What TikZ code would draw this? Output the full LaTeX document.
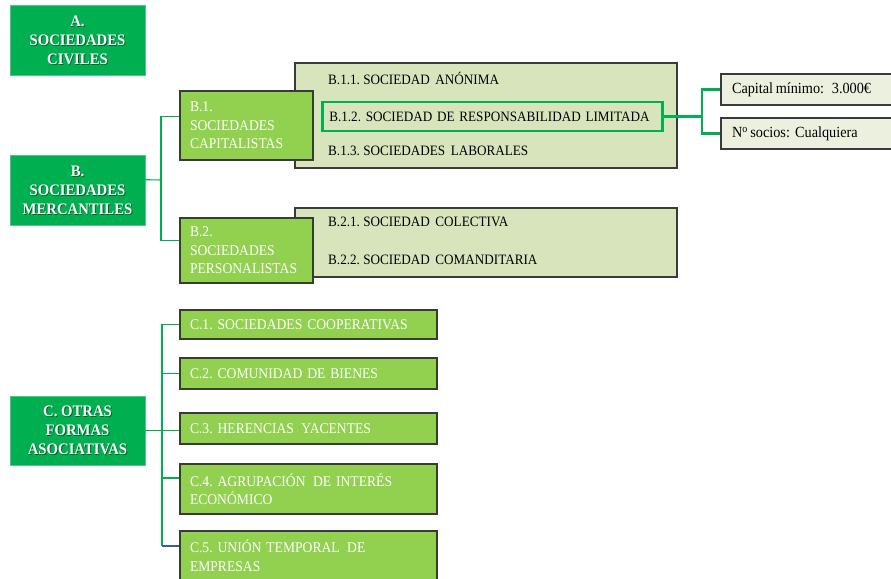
\documentclass[tikz,border=0pt]{standalone}
\usepackage{fontspec}
\setmainfont{Liberation Serif}[FakeStretch=0.92]
\definecolor{dgreen}{HTML}{00B050}
\definecolor{lgreen}{HTML}{92D050}
\definecolor{olivebg}{HTML}{D8E4BC}
\definecolor{palebg}{HTML}{EBF1DE}
\definecolor{edgegray}{HTML}{3A3A3A}
\definecolor{connblue}{HTML}{3A5BA8}
\tikzset{
  mainbox/.style={fill=dgreen, draw=dgreen!70!white, line width=0.6pt, inner sep=0pt},
  boldtxt/.style={text=white, align=center, font=\fontsize{16}{19}\selectfont\bfseries, inner sep=0pt},
  shadowtxt/.style={text=black, opacity=0.45, align=center, font=\fontsize{16}{19}\selectfont\bfseries, inner sep=0pt},
  subbox/.style={fill=lgreen, draw=edgegray, line width=1.3pt, text=white, align=left,
     font=\fontsize{14.8}{18.5}\selectfont, inner xsep=10pt, inner ysep=0pt},
  groupbox/.style={fill=olivebg, draw=edgegray, line width=1.3pt, inner sep=0pt},
  rowtxt/.style={text=black, font=\fontsize{14.3}{18}\selectfont, inner sep=0pt, anchor=west},
  hlbox/.style={draw=dgreen, line width=2.6pt, fill=olivebg, text=black, align=left,
     font=\fontsize{14.3}{18}\selectfont, inner xsep=7pt, inner ysep=0pt, anchor=west},
  infobox/.style={fill=palebg, draw=edgegray, line width=1.3pt, text=black, align=left,
     font=\fontsize{15.5}{18}\selectfont, inner xsep=11pt, inner ysep=0pt},
  conn/.style={draw=dgreen, line width=1.1pt},
  connthick/.style={draw=dgreen, line width=2.2pt}
}
\begin{document}
\frenchspacing
\begin{tikzpicture}[x=1pt,y=-1pt]
\useasboundingbox (0,0) rectangle (891,578);
\clip (0,0) rectangle (891,578);

% ---- A ----
\node[mainbox, minimum width=135pt, minimum height=70pt] (A) at (77.5,40) {};
\node[shadowtxt] (Ash) at ([shift={(0.9pt,-0.9pt)}]A.center) {A.\\SOCIEDADES\\CIVILES};
\node[boldtxt] (Atx) at (A.center) {A.\\SOCIEDADES\\CIVILES};

% ---- B ----
\node[mainbox, minimum width=135pt, minimum height=70pt] (B) at (77.5,190) {};
\node[shadowtxt] (Bsh) at ([shift={(0.9pt,-0.9pt)}]B.center) {B.\\SOCIEDADES\\MERCANTILES};
\node[boldtxt] (Btx) at (B.center) {B.\\SOCIEDADES\\MERCANTILES};

% ---- group boxes ----
\node[groupbox, minimum width=382pt, minimum height=105pt] (G1) at (486,115.5) {};
\node[groupbox, minimum width=382pt, minimum height=69pt] (G2) at (486,242.5) {};

\node[rowtxt] (B11) at (328,78) {B.1.1. SOCIEDAD\ \,ANÓNIMA};
\node[hlbox, minimum width=340pt, minimum height=29pt, text width=326pt] (B12) at (321,116.5) {\mbox{B.1.2. SOCIEDAD DE RESPONSABILIDAD LIMITADA}};
\node[rowtxt] (B13) at (328,151) {B.1.3. SOCIEDADES\ \,LABORALES};
\node[rowtxt] (B21) at (328,222) {B.2.1. SOCIEDAD\ \,COLECTIVA};
\node[rowtxt] (B22) at (328,260) {B.2.2. SOCIEDAD\ \,COMANDITARIA};

% ---- B.1 / B.2 ----
\node[subbox, minimum width=133pt, minimum height=69pt, text width=113pt] (B1) at (246.5,125.5) {B.1.\\SOCIEDADES\\CAPITALISTAS};
\node[subbox, minimum width=133pt, minimum height=65pt, text width=113pt] (B2) at (246.5,250.5) {B.2.\\SOCIEDADES\\PERSONALISTAS};

% ---- info boxes ----
\node[infobox, minimum width=179pt, minimum height=31pt, text width=157pt] (Cap) at (810.5,89.5) {Capital\,mínimo:\ \,3.000€};
\node[infobox, minimum width=179pt, minimum height=31pt, text width=157pt] (Nso) at (810.5,133.5) {N\textsuperscript{o}\,socios: Cualquiera};

% ---- C ----
\node[mainbox, minimum width=135pt, minimum height=69pt] (C) at (77.5,430.5) {};
\node[shadowtxt] (Csh) at ([shift={(0.9pt,-0.9pt)}]C.center) {C. OTRAS\\FORMAS\\ASOCIATIVAS};
\node[boldtxt] (Ctx) at (C.center) {C. OTRAS\\FORMAS\\ASOCIATIVAS};

\node[subbox, minimum width=257pt, minimum height=29pt, text width=237pt] (C1) at (308.5,324.5) {C.1. SOCIEDADES COOPERATIVAS};
\node[subbox, minimum width=257pt, minimum height=31pt, text width=237pt] (C2) at (308.5,373.5) {C.2. COMUNIDAD DE BIENES};
\node[subbox, minimum width=257pt, minimum height=31pt, text width=237pt] (C3) at (308.5,428.5) {C.3. HERENCIAS\ \,YACENTES};
\node[subbox, minimum width=257pt, minimum height=50pt, text width=237pt] (C4) at (308.5,489) {C.4. AGRUPACIÓN\ \,DE INTERÉS\\ECONÓMICO};
\node[subbox, minimum width=257pt, minimum height=49pt, text width=237pt] (C5) at (308.5,555.5) {C.5. UNIÓN TEMPORAL\ \,DE\\EMPRESAS};

% ---- connectors ----
\coordinate (bj) at (161,180);
\draw[conn] ([yshift=-25pt]B.north east) -- (bj);
\draw[conn] ([yshift=-26pt]B1.north west) -| (bj) |- ([yshift=-23pt]B2.north west);

\coordinate (rj) at (702,116.5);
\draw[connthick] (B12.east) -- (rj);
\draw[connthick] (Cap.west) -| (rj) |- (Nso.west);

\coordinate (cbot) at (162,546);
\draw[conn] (C1.west) -| (cbot);
\draw[conn] (C2.west) -- (C2.west -| cbot);
\draw[conn] (C.east) -- (C.east -| C3.west);
\draw[conn] ([yshift=11pt]C4.west) -- ([yshift=11pt]C4.west -| cbot);
\draw[draw=connblue, line width=1.1pt] (cbot) -- ([yshift=9.5pt]C5.west);
\end{tikzpicture}
\end{document}
